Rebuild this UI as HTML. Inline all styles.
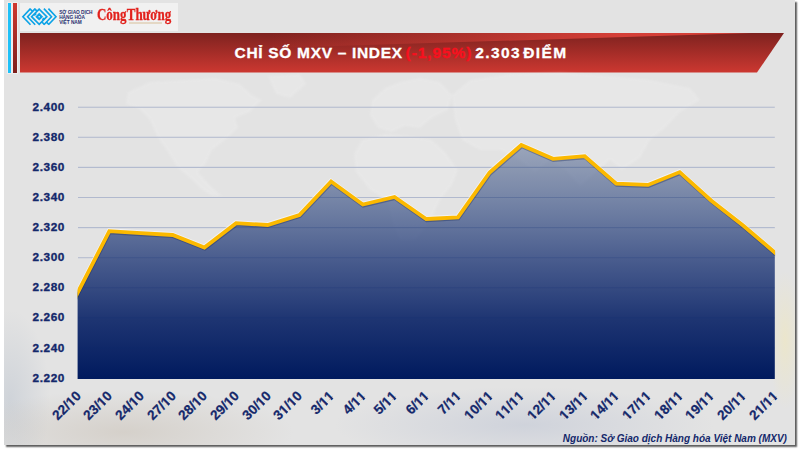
<!DOCTYPE html>
<html><head><meta charset="utf-8">
<style>
html,body{margin:0;padding:0;background:#fff;}
body{width:800px;height:450px;position:relative;overflow:hidden;font-family:"Liberation Sans",sans-serif;}
#frame{position:absolute;left:4px;top:0;width:790.5px;height:444.5px;background:radial-gradient(ellipse 170px 42px at 120px 432px,rgba(190,178,162,.38),rgba(190,178,162,0) 100%),radial-gradient(ellipse 40px 90px at 6px 400px,rgba(170,182,198,.35),rgba(170,182,198,0) 100%),radial-gradient(ellipse 190px 38px at 520px 425px,rgba(165,176,202,.32),rgba(165,176,202,0) 100%),radial-gradient(ellipse 16px 70px at 781px 340px,rgba(242,232,185,.55),rgba(242,232,185,0) 100%),#e3e3e3;box-shadow:2px 2px 1.5px rgba(0,0,0,.62);overflow:hidden;}
.abs{position:absolute;}
#cy{left:8.3px;top:3px;width:2.9px;height:70px;background:#1ec0f7;box-shadow:0 0 0 .8px rgba(255,255,255,.55);}
#rd{left:12.8px;top:3px;width:4.6px;height:70px;background:linear-gradient(#cf382f,#7c201d);box-shadow:0 0 0 .8px rgba(255,255,255,.55);}
#logo{left:20px;top:3px;width:158px;height:27.5px;background:#f1f1f1;}
#banner{left:20px;top:33px;width:764px;height:39.6px;background:linear-gradient(#7e221f,#cd3831);clip-path:polygon(0 0,100% 0,737px 100%,0 100%);}
#shine{left:20px;top:33px;width:764px;height:24px;background:linear-gradient(to right,rgba(222,66,58,0) 250px,rgba(222,66,58,.4) 420px,rgba(222,66,58,.9) 600px);clip-path:polygon(0 0,732px 0,0 22.9px);}
.t{position:absolute;top:44.3px;-webkit-text-stroke:.3px;font-weight:bold;font-size:15.5px;color:#fff;white-space:nowrap;line-height:18px;letter-spacing:.62px;}
.t.r{color:#f8101e;}
.xl i{display:inline-block;font-style:normal;clip-path:polygon(0 0,100% 0,100% 9.3px,5.3px 9.3px,5.3px 100%,2.85px 100%,2.85px 9.3px,0 9.3px);}
.yl{position:absolute;left:32.6px;width:40px;font-weight:bold;font-size:11.8px;color:#14286b;line-height:16px;letter-spacing:.55px;-webkit-text-stroke:.35px #14286b;}
.xl{position:absolute;top:389.4px;-webkit-text-stroke:.25px #14286b;width:60px;text-align:right;font-weight:bold;font-size:13.5px;line-height:14px;color:#14286b;transform-origin:100% 0;transform:rotate(-45deg);white-space:nowrap;}
#src{left:562.8px;top:431.5px;font-weight:bold;font-style:italic;font-size:10px;color:#14286b;white-space:nowrap;line-height:13px;}
svg{position:absolute;left:0;top:0;}
#sgd{left:59.2px;top:9.6px;font-size:4.8px;line-height:5.35px;font-weight:bold;color:#2b2f70;white-space:nowrap;letter-spacing:-.05px;}
#ct{left:96.6px;top:4.9px;-webkit-text-stroke:.3px #e2211c;font-family:"Liberation Serif",serif;font-weight:bold;font-size:17.2px;line-height:20px;color:#e2211c;white-space:nowrap;transform-origin:0 0;transform:scaleX(.757);letter-spacing:-.1px;word-spacing:-3.2px;}
#tag{left:129px;top:22.4px;width:33px;height:2px;background:#d9c3a0;opacity:.55;}
</style></head><body>
<div id="frame"></div>
<div class="abs" id="cy"></div>
<div class="abs" id="rd"></div>
<div class="abs" id="logo"></div>
<svg class="lg" width="800" height="36" viewBox="0 0 800 36">
<g fill="none" stroke="#0da3e6" stroke-width="1.65" stroke-linejoin="miter" stroke-linecap="butt">
<polyline points="30.5,8.6 22.9,16.7 30.5,24.8"/>
<polyline points="35.2,8.6 27.6,16.7 35.2,24.8"/>
<polyline points="39.2,9.1 31.6,16.7 39.2,24.3 46.8,16.7 39.2,9.1 38.6,9.7"/>
<polyline points="43.9,8.6 51.5,16.7 43.9,24.8"/>
<polyline points="48.4,8.6 56,16.7 48.4,24.8"/>
<polyline points="30,8.9 32.6,11.5"/><polyline points="34.7,8.9 37,11.2"/>
<polyline points="44.4,24.5 41.9,22"/><polyline points="48.9,24.5 46.2,21.8"/>
<polyline points="36.2,13.4 34.2,15.4"/><polyline points="42.4,19.8 44.2,18"/>
</g>
<polygon points="39.2,12.8 43.1,16.7 39.2,20.6 35.3,16.7" fill="#0da3e6"/>
<circle cx="39.2" cy="16.7" r=".8" fill="#f1f1f1"/>
</svg>
<div class="abs" id="sgd">SỞ GIAO DỊCH<br>HÀNG HÓA<br>VIỆT NAM</div>
<div class="abs" id="ct">Công Thương</div>
<div class="abs" id="tag"></div>
<div class="abs" id="banner"></div>
<div class="abs" id="shine"></div>
<div class="t" style="left:234.6px;letter-spacing:.68px">CHỈ SỐ MXV – INDEX</div><div class="t r" style="left:405.6px;letter-spacing:.9px">(-1,95%)</div><div class="t" style="left:475.3px;letter-spacing:1.4px">2.303</div><div class="t" style="left:523.2px;letter-spacing:1.4px">ĐIỂM</div>
<svg width="800" height="450" viewBox="0 0 800 450">
<defs><filter id="bl" x="-5%" y="-5%" width="110%" height="110%"><feGaussianBlur stdDeviation="1.2"/></filter><clipPath id="cp"><rect x="77.5" y="90" width="697.6" height="300"/></clipPath><linearGradient id="ag" x1="0" y1="145" x2="0" y2="378.6" gradientUnits="userSpaceOnUse">
<stop offset="0" stop-color="#324b7d" stop-opacity=".42"/>
<stop offset=".25" stop-color="#28427c" stop-opacity=".6"/>
<stop offset=".5" stop-color="#193273" stop-opacity=".77"/>
<stop offset=".75" stop-color="#0c2568" stop-opacity=".92"/>
<stop offset="1" stop-color="#001a5e" stop-opacity="1"/>
</linearGradient></defs>
<g fill="#fff" opacity=".17" filter="url(#bl)">
<polygon points="128,92 150,82 185,80 215,78 240,84 252,95 262,100 250,112 235,118 238,128 225,140 212,150 205,165 198,172 205,180 215,190 222,196 212,196 200,188 190,178 178,168 168,152 158,138 150,120 138,108 126,104"/>
<polygon points="268,76 300,74 306,84 290,98 276,94"/>
<polygon points="372,100 385,88 400,82 420,78 440,82 452,95 448,110 432,118 420,128 405,126 392,132 378,128 370,115"/>
<polygon points="362,140 385,134 410,136 432,140 445,152 458,170 452,185 440,200 430,222 415,240 400,240 392,220 388,200 370,190 356,172 354,154"/>
<polygon points="452,95 470,80 510,74 560,72 610,76 650,80 690,88 700,100 680,112 665,128 650,140 640,158 622,170 610,160 596,172 580,186 566,170 550,160 535,172 520,160 500,150 480,150 462,140 455,120"/>
</g>
<g stroke="#c3c9d9" stroke-width="1.1"><line x1="78" x2="774.8" y1="107.2" y2="107.2"/><line x1="78" x2="774.8" y1="137.3" y2="137.3"/><line x1="78" x2="774.8" y1="167.4" y2="167.4"/><line x1="78" x2="774.8" y1="197.5" y2="197.5"/><line x1="78" x2="774.8" y1="227.6" y2="227.6"/><line x1="78" x2="774.8" y1="257.7" y2="257.7"/><line x1="78" x2="774.8" y1="287.8" y2="287.8"/><line x1="78" x2="774.8" y1="317.9" y2="317.9"/><line x1="78" x2="774.8" y1="348.0" y2="348.0"/></g>
<polygon points="77.6,379 77.6,292.8 109.3,231.2 141.0,233.2 172.7,235.0 204.4,247.5 236.1,223.2 267.7,225.0 299.4,215.0 331.1,181.5 362.8,204.5 394.5,197.0 426.2,219.0 457.9,217.3 489.6,172.5 521.3,145.0 553.0,158.8 584.7,156.2 616.3,183.7 648.0,184.9 679.7,172.1 711.4,200.7 743.1,225.5 774.8,252.5 774.8,379" fill="url(#ag)"/>
<g stroke="#1d3573" stroke-width="1" opacity=".1"><line x1="78" x2="774.8" y1="107.2" y2="107.2"/><line x1="78" x2="774.8" y1="137.3" y2="137.3"/><line x1="78" x2="774.8" y1="167.4" y2="167.4"/><line x1="78" x2="774.8" y1="197.5" y2="197.5"/><line x1="78" x2="774.8" y1="227.6" y2="227.6"/><line x1="78" x2="774.8" y1="257.7" y2="257.7"/><line x1="78" x2="774.8" y1="287.8" y2="287.8"/><line x1="78" x2="774.8" y1="317.9" y2="317.9"/><line x1="78" x2="774.8" y1="348.0" y2="348.0"/></g>
<g clip-path="url(#cp)"><polyline points="71.3,305.1 77.6,292.8 109.3,231.2 141.0,233.2 172.7,235.0 204.4,247.5 236.1,223.2 267.7,225.0 299.4,215.0 331.1,181.5 362.8,204.5 394.5,197.0 426.2,219.0 457.9,217.3 489.6,172.5 521.3,145.0 553.0,158.8 584.7,156.2 616.3,183.7 648.0,184.9 679.7,172.1 711.4,200.7 743.1,225.5 774.8,252.5 781.1,257.9" fill="none" stroke="#fff" stroke-opacity=".55" stroke-width="3.8" stroke-linejoin="miter" transform="translate(-0.3,-1)"/><polyline points="71.3,305.1 77.6,292.8 109.3,231.2 141.0,233.2 172.7,235.0 204.4,247.5 236.1,223.2 267.7,225.0 299.4,215.0 331.1,181.5 362.8,204.5 394.5,197.0 426.2,219.0 457.9,217.3 489.6,172.5 521.3,145.0 553.0,158.8 584.7,156.2 616.3,183.7 648.0,184.9 679.7,172.1 711.4,200.7 743.1,225.5 774.8,252.5 781.1,257.9" fill="none" stroke="#14255a" stroke-opacity=".35" stroke-width="3.8" stroke-linejoin="miter" transform="translate(0.4,1.2)"/>
<polyline points="71.3,305.1 77.6,292.8 109.3,231.2 141.0,233.2 172.7,235.0 204.4,247.5 236.1,223.2 267.7,225.0 299.4,215.0 331.1,181.5 362.8,204.5 394.5,197.0 426.2,219.0 457.9,217.3 489.6,172.5 521.3,145.0 553.0,158.8 584.7,156.2 616.3,183.7 648.0,184.9 679.7,172.1 711.4,200.7 743.1,225.5 774.8,252.5 781.1,257.9" fill="none" stroke="#fcb900" stroke-width="3.8" stroke-linejoin="miter"/></g>
</svg>
<div class="yl" style="top:98.7px">2.400</div><div class="yl" style="top:128.8px">2.380</div><div class="yl" style="top:158.9px">2.360</div><div class="yl" style="top:189.0px">2.340</div><div class="yl" style="top:219.1px">2.320</div><div class="yl" style="top:249.2px">2.300</div><div class="yl" style="top:279.3px">2.280</div><div class="yl" style="top:309.4px">2.260</div><div class="yl" style="top:339.5px">2.240</div><div class="yl" style="top:369.6px">2.220</div>
<div class="xl" style="left:13.5px">22/<i>1</i>0</div><div class="xl" style="left:45.2px">23/<i>1</i>0</div><div class="xl" style="left:76.9px">24/<i>1</i>0</div><div class="xl" style="left:108.6px">27/<i>1</i>0</div><div class="xl" style="left:140.3px">28/<i>1</i>0</div><div class="xl" style="left:172.0px">29/<i>1</i>0</div><div class="xl" style="left:203.6px">30/<i>1</i>0</div><div class="xl" style="left:235.3px">3<i>1</i>/<i>1</i>0</div><div class="xl" style="left:267.0px">3/<i>1</i><i>1</i></div><div class="xl" style="left:298.7px">4/<i>1</i><i>1</i></div><div class="xl" style="left:330.4px">5/<i>1</i><i>1</i></div><div class="xl" style="left:362.1px">6/<i>1</i><i>1</i></div><div class="xl" style="left:393.8px">7/<i>1</i><i>1</i></div><div class="xl" style="left:425.5px"><i>1</i>0/<i>1</i><i>1</i></div><div class="xl" style="left:457.2px"><i>1</i><i>1</i>/<i>1</i><i>1</i></div><div class="xl" style="left:488.9px"><i>1</i>2/<i>1</i><i>1</i></div><div class="xl" style="left:520.6px"><i>1</i>3/<i>1</i><i>1</i></div><div class="xl" style="left:552.2px"><i>1</i>4/<i>1</i><i>1</i></div><div class="xl" style="left:583.9px"><i>1</i>7/<i>1</i><i>1</i></div><div class="xl" style="left:615.6px"><i>1</i>8/<i>1</i><i>1</i></div><div class="xl" style="left:647.3px"><i>1</i>9/<i>1</i><i>1</i></div><div class="xl" style="left:679.0px">20/<i>1</i><i>1</i></div><div class="xl" style="left:710.7px">2<i>1</i>/<i>1</i><i>1</i></div>
<div class="abs" id="src">Nguồn: Sở Giao dịch Hàng hóa Việt Nam (MXV)</div>
</body></html>
